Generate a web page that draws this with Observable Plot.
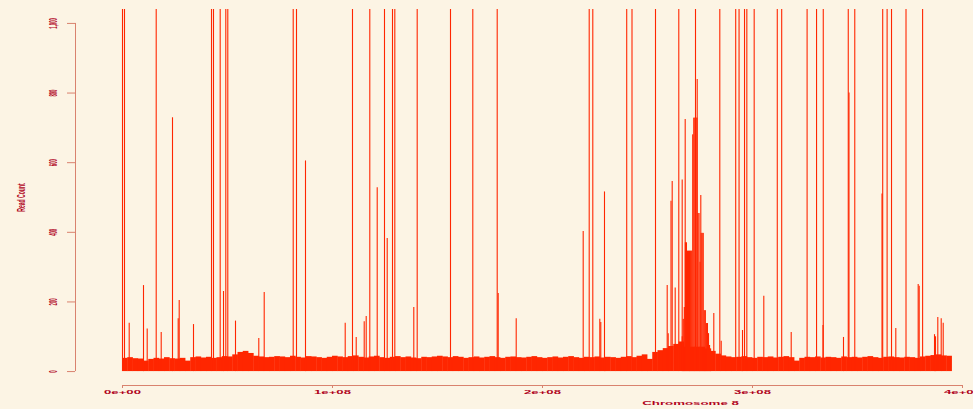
<!DOCTYPE html>
<html><head><meta charset="utf-8">
<script src="https://cdn.jsdelivr.net/npm/d3@7"></script>
<script src="https://cdn.jsdelivr.net/npm/@observablehq/plot@0.6"></script>
<style>
html,body{margin:0;padding:0;background:#fcf4e4;}
#chart svg{display:block;}
</style></head><body><div id="chart"></div>
<script>
// ---- data (positions in Mb along chromosome, values = read counts) ----
const bgBinMb = 2.5;
const bgStartMb = 0;
const bgValues = [
  38, 40, 37, 36, 30, 35, 38, 36, 40, 37,
  36, 38, 30, 40, 42, 39, 41, 38, 40, 43,
  42, 48, 55, 58, 52, 44, 42, 40, 41, 43,
  42, 40, 44, 41, 39, 43, 42, 40, 38, 41,
  44, 42, 40, 43, 45, 41, 39, 42, 44, 40,
  38, 41, 43, 40, 42, 39, 37, 41, 40, 42,
  44, 42, 40, 43, 41, 38, 40, 42, 39, 41,
  43, 40, 38, 41, 42, 40, 39, 41, 43, 40,
  38, 40, 42, 39, 41, 43, 40, 38, 41, 40,
  42, 39, 41, 40, 38, 41, 43, 40, 44, 48,
  35, 55, 60, 66, 72, 78, 85, 70, 70, 70,
  70, 65, 58, 50, 45, 42, 40, 41, 43, 40,
  38, 41, 40, 42, 39, 41, 43, 40, 30, 38,
  41, 40, 42, 39, 41, 40, 38, 42, 40, 41,
  39, 41, 43, 40, 38, 41, 42, 40, 39, 41,
  40, 38, 42, 44, 46, 48, 45, 44
];
const peakStartMb = 266.5;
const peakBinMb = 0.5;
const peakValues = [
  100, 150, 184, 370, 370, 346, 346, 346, 346, 346,
  680, 728, 728, 728, 728, 454, 454, 314, 397, 397,
  397, 175, 175, 138, 138, 109, 75, 65
];
// spikes that run off the top of the plot
const tallSpikeMb = [
  0, 0.95, 16.05, 42.38, 43.33, 46.52, 49.19, 50.14, 81.29, 82.86,
  109.52, 117.76, 124.76, 128.57, 129.67, 140.33, 156.19, 166.81, 178.43, 222.24,
  223.95, 240.1, 242.62, 253.81, 264.9, 272.86, 284.43, 292.0, 293.6, 296.2,
  297.3, 300.8, 311.8, 313.9, 326.0, 330.5, 333.7, 345.6, 348.7, 362.0,
  364.1, 366.2, 373.1, 381.0
];
const tallSpikeValue = 2000;
// individual spikes within range
const spikeMb = [
  3.19, 10.0, 11.76, 18.43, 23.81, 26.52, 27.0, 33.81, 48.1, 53.81,
  64.9, 67.48, 87.14, 106.05, 111.29, 115.1, 116.05, 121.29, 126.05, 138.71,
  178.9, 187.48, 219.38, 227.29, 227.76, 229.52, 259.38, 259.86, 261.19, 261.76,
  263.19, 266.52, 267.95, 273.67, 275.38, 281.57, 285.1, 295.24, 305.38, 318.43,
  333.57, 343.33, 345.95, 361.67, 368.24, 378.9, 379.38, 386.67, 387.14, 388.24,
  389.86, 390.81
];
const spikeValues = [
  139, 247, 122, 112, 729, 152, 204, 135, 230, 145,
  95, 227, 605, 139, 98, 143, 158, 528, 382, 184,
  224, 152, 402, 150, 141, 516, 247, 109, 489, 546,
  240, 550, 724, 839, 506, 167, 87, 118, 216, 112,
  132, 98, 800, 510, 124, 250, 245, 106, 100, 155,
  152, 139
];
const xTicks = [0, 1e8, 2e8, 3e8, 4e8];
const xTickLabels = ["0e+00", "1e+08", "2e+08", "3e+08", "4e+08"];
const yTicks = [0, 200, 400, 600, 800, 1000];
const xLabel = "Chromosome 8";
const yLabel = "Read Count";

// ---- tables ----
const MB = 1e6;
const bg = bgValues.map((v, i) => ({x1: (bgStartMb + i * bgBinMb) * MB, x2: (bgStartMb + (i + 1) * bgBinMb) * MB + 2e5, v}));
const peak = peakValues.map((v, i) => ({x1: (peakStartMb + i * peakBinMb) * MB, x2: (peakStartMb + (i + 1) * peakBinMb) * MB + 5e4, v}));
const tall = tallSpikeMb.map(m => ({x: m * MB, v: tallSpikeValue}));
const spikes = spikeMb.map((m, i) => ({x: m * MB, v: spikeValues[i]}));

const RED = "#ff2600";
const TEXT = "#b0001a";
const AXIS = "#d9826e";
const xMin = -22380952, xMax = 405238095;
const yMin = -40, yMax = 1040;

const chart = Plot.plot({
  width: 973, height: 409,
  marginLeft: 75, marginRight: 0, marginTop: 9, marginBottom: 24,
  x: {domain: [xMin, xMax]},
  y: {domain: [yMin, yMax]},
  style: {background: "transparent", fontFamily: "Liberation Sans, Arial, sans-serif"},
  marks: [
    Plot.rectY(bg, {x1: "x1", x2: "x2", y1: 0, y2: "v", fill: RED, inset: 0}),
    Plot.rectY(peak, {x1: "x1", x2: "x2", y1: 0, y2: "v", fill: RED, inset: 0}),
    Plot.ruleX(spikes, {x: "x", y1: 0, y2: "v", stroke: RED, strokeWidth: 1.1}),
    Plot.ruleX(tall, {x: "x", y1: 0, y2: "v", stroke: RED, strokeWidth: 1.1, clip: true}),
    Plot.ruleX([xMin], {y1: 0, y2: 1000, stroke: AXIS, strokeWidth: 1}),
    Plot.ruleY([yMin], {x1: 0, x2: 4e8, stroke: AXIS, strokeWidth: 1}),
    Plot.axisY(yTicks, {tickSize: 8, tickPadding: 11, tickRotate: -90, stroke: AXIS, fill: TEXT,
      fontSize: 6, fontWeight: "bold", label: yLabel, labelAnchor: "center", labelOffset: 58, labelArrow: "none"}),
    Plot.axisX(xTicks, {tickSize: 3, tickPadding: 2, stroke: AXIS, fill: TEXT,
      fontSize: 6, fontWeight: "bold", tickFormat: (d, i) => xTickLabels[xTicks.indexOf(d)], label: null}),
    Plot.text([xLabel], {x: 2.705e8, y: yMin, dy: 18, fill: TEXT, fontSize: 7, fontWeight: "bold", frameAnchor: "middle", className: "xlab"})
  ]
});
document.getElementById("chart").appendChild(chart);

// stretch the axis text like the original (wide, short glyphs)
const svg = d3.select(chart);
svg.selectAll("[aria-label='y-axis tick label'] text").each(function() {
  const t = d3.select(this); t.attr("transform", (t.attr("transform") || "") + " scale(0.7,1.9)");
});
svg.selectAll("[aria-label='y-axis label'] text").each(function() {
  const t = d3.select(this); t.attr("transform", (t.attr("transform") || "") + " scale(0.85,1.8)");
});
svg.selectAll("[aria-label='x-axis tick label'] text").each(function() {
  const t = d3.select(this); t.attr("transform", (t.attr("transform") || "") + " scale(2.2,0.8)");
});
svg.selectAll(".xlab text").each(function() {
  const t = d3.select(this); t.attr("transform", (t.attr("transform") || "") + " scale(1.9,0.8)");
});
</script>
</body></html>
